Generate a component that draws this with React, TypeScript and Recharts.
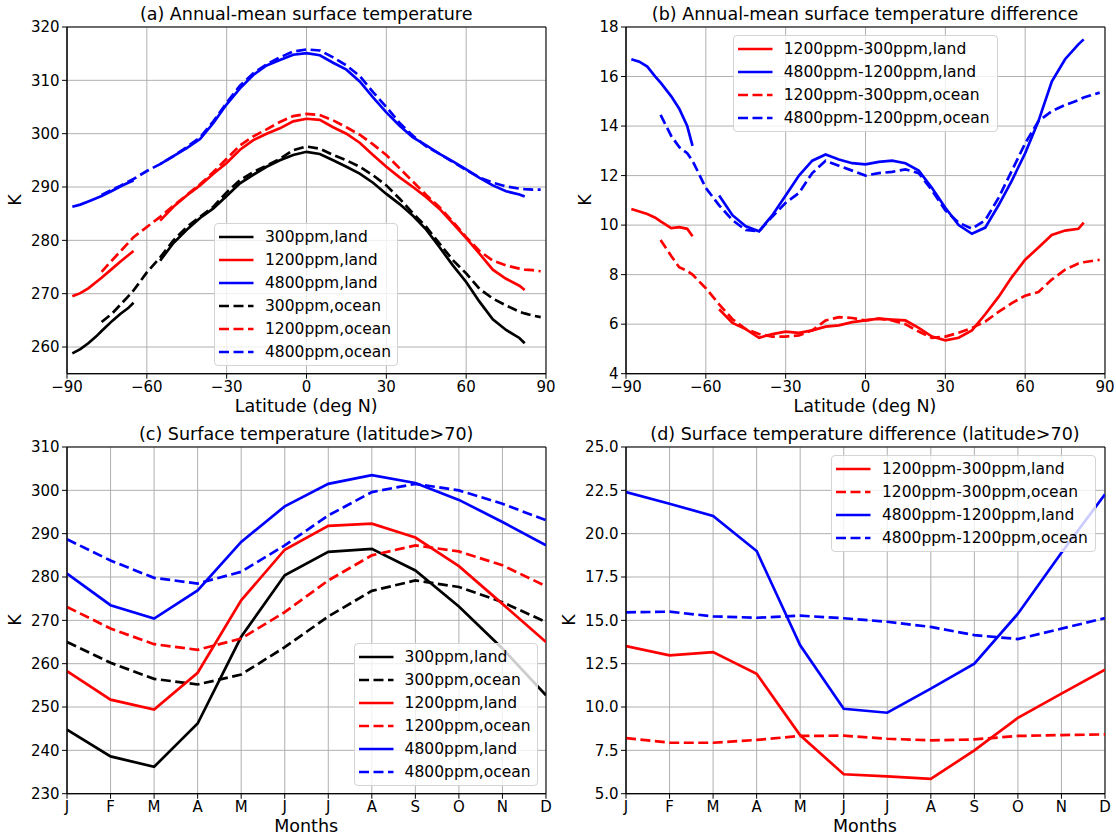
import React from "react"
import {
  LineChart,
  Line,
  XAxis,
  YAxis,
  CartesianGrid,
  ReferenceArea,
} from "recharts"

const FONT = '"DejaVu Sans", sans-serif'

// latitude grid (deg N) shared by panels (a) and (b); null = no land / no ocean there
const LAT = [-88, -85, -82, -79, -77, -73, -70, -67, -65, -60, -55, -50, -45, -40, -35, -30, -25, -20, -15, -10, -5, 0, 5, 10, 15, 20, 25, 30, 35, 40, 45, 50, 55, 60, 65, 70, 75, 80, 82, 85, 88]
const LAT_TICKS = [-90, -60, -30, 0, 30, 60, 90]

// (a) annual-mean surface temperature, K
const LAND_300 = [258.8, 259.6, 260.7, 262.0, 263.0, 264.9, 266.2, 267.3, 268.3, null, 276.2, 279.5, 282.0, 284.2, 286.0, 288.3, 290.7, 292.3, 293.8, 295.0, 296.0, 296.6, 296.2, 295.0, 293.8, 292.5, 290.8, 288.7, 286.8, 284.6, 282.0, 278.7, 275.3, 272.2, 268.5, 265.2, 263.2, 261.7, 260.7, null, null]
const LAND_1200 = [269.5, 270.1, 271.0, 272.2, 273.0, 274.7, 276.0, 277.2, 278.0, null, 283.7, 286.3, 288.4, 290.3, 292.5, 294.5, 297.0, 298.8, 300.0, 301.0, 302.3, 302.8, 302.6, 301.2, 300.0, 298.3, 296.0, 293.8, 291.8, 290.0, 288.1, 285.9, 283.2, 280.4, 277.5, 274.5, 272.8, 271.5, 270.7, null, null]
const LAND_4800 = [286.3, 286.7, 287.3, 287.9, 288.3, 289.3, 290.1, 290.8, 291.2, null, 294.3, 295.8, 297.3, 299.0, 302.0, 305.5, 308.5, 311.0, 312.8, 313.8, 314.8, 315.1, 314.7, 313.3, 312.0, 309.8, 306.8, 304.0, 301.5, 299.3, 297.8, 296.2, 294.8, 293.3, 291.7, 290.3, 289.2, 288.6, 288.2, null, null]
const OCEAN_300 = [null, null, null, null, 264.7, 266.3, 267.9, 269.5, 270.6, 274.0, 276.8, 280.0, 282.5, 284.4, 286.3, 289.0, 291.3, 292.8, 294.0, 295.3, 296.9, 297.6, 297.2, 296.0, 295.0, 293.8, 292.2, 290.3, 287.8, 285.1, 282.5, 279.4, 276.3, 273.8, 270.9, 269.1, 267.8, 266.6, 266.3, 265.9, 265.6]
const OCEAN_1200 = [null, null, null, null, 274.1, 276.3, 277.9, 279.5, 280.6, 282.5, 284.4, 286.5, 288.5, 290.5, 292.8, 295.3, 297.8, 299.5, 300.8, 302.2, 303.3, 303.7, 303.5, 302.5, 301.2, 299.8, 298.0, 296.0, 293.5, 291.0, 288.5, 286.2, 283.5, 280.6, 278.0, 276.2, 275.3, 274.7, 274.5, 274.4, 274.2]
const OCEAN_4800 = [null, null, null, null, 288.5, 289.5, 290.2, 291.0, 291.5, 293.0, 294.3, 295.8, 297.5, 299.3, 302.3, 305.8, 309.0, 311.3, 313.0, 314.3, 315.4, 315.8, 315.6, 314.3, 312.8, 310.8, 307.8, 305.0, 302.0, 299.6, 297.6, 296.2, 294.7, 293.2, 291.8, 290.8, 290.1, 289.7, 289.6, 289.5, 289.5]

// (b) annual-mean differences, K
const D_LAND_1200_300 = [10.65, 10.55, 10.45, 10.3, 10.15, 9.88, 9.92, 9.85, 9.55, null, 6.6, 6.05, 5.8, 5.45, 5.6, 5.7, 5.65, 5.75, 5.9, 5.95, 6.08, 6.15, 6.22, 6.18, 6.15, 5.85, 5.5, 5.35, 5.45, 5.75, 6.4, 7.1, 7.9, 8.6, 9.1, 9.6, 9.78, 9.85, 10.1, null, null]
const D_LAND_4800_1200 = [16.7, 16.6, 16.4, 16.0, 15.75, 15.2, 14.7, 14.0, 13.2, null, 11.2, 10.4, 9.95, 9.75, 10.4, 11.2, 12.0, 12.6, 12.85, 12.65, 12.5, 12.45, 12.55, 12.6, 12.5, 12.2, 11.5, 10.7, 10.0, 9.65, 9.9, 10.8, 11.8, 12.9, 14.2, 15.8, 16.7, 17.3, 17.5, null, null]
const D_OCEAN_1200_300 = [null, null, null, null, 9.4, 8.75, 8.3, 8.15, 8.0, 7.45, 6.8, 6.2, 5.8, 5.6, 5.5, 5.5, 5.55, 5.75, 6.15, 6.28, 6.25, 6.15, 6.22, 6.15, 6.0, 5.7, 5.45, 5.5, 5.65, 5.85, 6.1, 6.5, 6.85, 7.15, 7.3, 7.8, 8.2, 8.45, 8.5, 8.55, 8.6]
const D_OCEAN_4800_1200 = [null, null, null, null, 14.45, 13.6, 13.15, 12.9, 12.6, 11.5, 10.8, 10.2, 9.8, 9.75, 10.35, 10.9, 11.3, 12.1, 12.6, 12.4, 12.2, 12.0, 12.1, 12.15, 12.25, 12.1, 11.4, 10.6, 10.1, 9.85, 10.2, 11.1, 12.2, 13.3, 14.2, 14.6, 14.85, 15.05, 15.15, 15.25, 15.35]

// (c), (d) monthly means poleward of 70N
const MONTHS = ["J", "F", "M", "A", "M", "J", "J", "A", "S", "O", "N", "D"]
const POLAR_LAND_300 = [244.8, 238.6, 236.2, 246.2, 266.2, 280.4, 285.8, 286.5, 281.5, 273.2, 263.5, 252.7]
const POLAR_OCEAN_300 = [265.0, 260.2, 256.5, 255.2, 257.5, 263.8, 270.9, 276.8, 279.2, 277.7, 274.2, 269.6]
const POLAR_LAND_1200 = [258.3, 251.7, 249.4, 257.9, 274.6, 286.3, 291.8, 292.3, 289.1, 282.5, 273.8, 265.0]
const POLAR_OCEAN_1200 = [273.1, 268.1, 264.5, 263.2, 265.8, 271.9, 279.2, 285.0, 287.3, 285.9, 282.7, 277.9]
const POLAR_LAND_4800 = [280.8, 273.5, 270.4, 276.9, 288.1, 296.3, 301.5, 303.5, 301.7, 297.8, 292.7, 287.3]
const POLAR_OCEAN_4800 = [288.7, 283.8, 279.8, 278.5, 281.2, 287.3, 294.2, 299.6, 301.5, 300.0, 296.9, 293.1]

const POLAR_D_LAND_1200_300 = [13.52, 12.98, 13.17, 11.92, 8.37, 6.12, 6.0, 5.85, 7.5, 9.38, 10.77, 12.15]
const POLAR_D_OCEAN_1200_300 = [8.21, 7.94, 7.94, 8.1, 8.33, 8.35, 8.17, 8.08, 8.13, 8.33, 8.38, 8.42]
const POLAR_D_LAND_4800_1200 = [22.4, 21.73, 21.02, 19.0, 13.56, 9.9, 9.67, 11.06, 12.5, 15.38, 18.9, 22.27]
const POLAR_D_OCEAN_4800_1200 = [15.46, 15.5, 15.23, 15.15, 15.27, 15.12, 14.92, 14.62, 14.15, 13.92, 14.52, 15.13]

const MONTH_IDX = MONTHS.map((_, i) => i)

const latData = LAT.map((lat, i) => ({
  x: lat,
  land300: LAND_300[i],
  land1200: LAND_1200[i],
  land4800: LAND_4800[i],
  ocean300: OCEAN_300[i],
  ocean1200: OCEAN_1200[i],
  ocean4800: OCEAN_4800[i],
  dLand12: D_LAND_1200_300[i],
  dLand48: D_LAND_4800_1200[i],
  dOcean12: D_OCEAN_1200_300[i],
  dOcean48: D_OCEAN_4800_1200[i],
}))

const monthData = MONTH_IDX.map((m) => ({
  x: m,
  land300: POLAR_LAND_300[m],
  ocean300: POLAR_OCEAN_300[m],
  land1200: POLAR_LAND_1200[m],
  ocean1200: POLAR_OCEAN_1200[m],
  land4800: POLAR_LAND_4800[m],
  ocean4800: POLAR_OCEAN_4800[m],
  dLand12: POLAR_D_LAND_1200_300[m],
  dOcean12: POLAR_D_OCEAN_1200_300[m],
  dLand48: POLAR_D_LAND_4800_1200[m],
  dOcean48: POLAR_D_OCEAN_4800_1200[m],
}))

interface Series {
  key: string
  name: string
  color: string
  dashed?: boolean
}

const S_ABS_LAT: Series[] = [
  { key: "land300", name: "300ppm,land", color: "#000000" },
  { key: "land1200", name: "1200ppm,land", color: "#ff0000" },
  { key: "land4800", name: "4800ppm,land", color: "#0000ff" },
  { key: "ocean300", name: "300ppm,ocean", color: "#000000", dashed: true },
  { key: "ocean1200", name: "1200ppm,ocean", color: "#ff0000", dashed: true },
  { key: "ocean4800", name: "4800ppm,ocean", color: "#0000ff", dashed: true },
]
const S_DIFF_LAT: Series[] = [
  { key: "dLand12", name: "1200ppm-300ppm,land", color: "#ff0000" },
  { key: "dLand48", name: "4800ppm-1200ppm,land", color: "#0000ff" },
  { key: "dOcean12", name: "1200ppm-300ppm,ocean", color: "#ff0000", dashed: true },
  { key: "dOcean48", name: "4800ppm-1200ppm,ocean", color: "#0000ff", dashed: true },
]
const S_ABS_MON: Series[] = [
  { key: "land300", name: "300ppm,land", color: "#000000" },
  { key: "ocean300", name: "300ppm,ocean", color: "#000000", dashed: true },
  { key: "land1200", name: "1200ppm,land", color: "#ff0000" },
  { key: "ocean1200", name: "1200ppm,ocean", color: "#ff0000", dashed: true },
  { key: "land4800", name: "4800ppm,land", color: "#0000ff" },
  { key: "ocean4800", name: "4800ppm,ocean", color: "#0000ff", dashed: true },
]
const S_DIFF_MON: Series[] = [
  { key: "dLand12", name: "1200ppm-300ppm,land", color: "#ff0000" },
  { key: "dOcean12", name: "1200ppm-300ppm,ocean", color: "#ff0000", dashed: true },
  { key: "dLand48", name: "4800ppm-1200ppm,land", color: "#0000ff" },
  { key: "dOcean48", name: "4800ppm-1200ppm,ocean", color: "#0000ff", dashed: true },
]

const LW = 2.7
const DASH = "10 4.5"
const PW = 479
const PH = 346.7

const minusFmt = (v: number) => (v < 0 ? "\u2212" + Math.abs(v) : String(v))

function Panel({
  left,
  top,
  data,
  xTicks,
  xFmt,
  yTicks,
  yDomain,
  yFmt,
  series,
}: {
  left: number
  top: number
  data: any[]
  xTicks: number[]
  xFmt: (v: number) => string
  yTicks: number[]
  yDomain: [number, number]
  yFmt?: (v: number) => string
  series: Series[]
}) {
  const ML = 70
  const MT = 30
  const MB = 45
  const MR = 10
  const x0 = xTicks[0]
  const x1 = xTicks[xTicks.length - 1]
  const tick = { fill: "#000", fontSize: 15, fontFamily: FONT }
  return (
    <div style={{ position: "absolute", left: left - ML, top: top - MT }}>
      <LineChart
        width={PW + ML + MR}
        height={PH + MT + MB}
        data={data}
        margin={{ top: MT, right: MR, bottom: 0, left: 0 }}
      >
        <CartesianGrid stroke="#b0b0b0" strokeWidth={1} />
        <XAxis
          dataKey="x"
          type="number"
          domain={[x0, x1]}
          ticks={xTicks}
          interval={0}
          tickFormatter={xFmt}
          height={MB}
          tickSize={5}
          tickMargin={3}
          tick={tick}
          axisLine={{ stroke: "#000" }}
          tickLine={{ stroke: "#000" }}
          allowDataOverflow
        />
        <YAxis
          type="number"
          domain={yDomain}
          ticks={yTicks}
          interval={0}
          tickFormatter={yFmt}
          width={ML}
          tickSize={5}
          tickMargin={2.5}
          tick={tick}
          axisLine={{ stroke: "#000" }}
          tickLine={{ stroke: "#000" }}
          allowDataOverflow
        />
        {series.map((s) => (
          <Line
            key={s.key}
            dataKey={s.key}
            type="linear"
            stroke={s.color}
            strokeWidth={LW}
            strokeDasharray={s.dashed ? DASH : undefined}
            dot={false}
            activeDot={false}
            isAnimationActive={false}
          />
        ))}
        <ReferenceArea
          x1={x0}
          x2={x1}
          y1={yDomain[0]}
          y2={yDomain[1]}
          fill="none"
          stroke="#000"
          strokeWidth={1}
        />
      </LineChart>
    </div>
  )
}

function LegendBox({
  left,
  top,
  width,
  height,
  items,
}: {
  left: number
  top: number
  width: number
  height: number
  items: Series[]
}) {
  return (
    <div
      style={{
        position: "absolute",
        left,
        top,
        width,
        height,
        background: "rgba(255,255,255,0.8)",
        border: "1px solid #d4d4d4",
        borderRadius: 4,
        boxSizing: "border-box",
      }}
    >
      {items.map((s, i) => (
        <div
          key={s.key}
          style={{
            position: "absolute",
            left: 0,
            top: 13 + i * 23.1 - 10,
            height: 20,
            display: "flex",
            alignItems: "center",
            whiteSpace: "nowrap",
          }}
        >
          <svg width={40} height={20} style={{ marginLeft: 4, flex: "none" }}>
            <line
              x1={0}
              x2={34.5}
              y1={10}
              y2={10}
              stroke={s.color}
              strokeWidth={LW}
              strokeDasharray={s.dashed ? DASH : undefined}
            />
          </svg>
          <span style={{ marginLeft: 6, fontSize: 15.5, color: "#000", fontFamily: FONT }}>{s.name}</span>
        </div>
      ))}
    </div>
  )
}

function Text({ x, y, size, children, rotate }: { x: number; y: number; size: number; children: React.ReactNode; rotate?: boolean }) {
  return (
    <div
      style={{
        position: "absolute",
        left: x,
        top: y,
        transform: `translate(-50%, -50%)${rotate ? " rotate(-90deg)" : ""}`,
        fontSize: size,
        fontFamily: FONT,
        color: "#000",
        whiteSpace: "nowrap",
        lineHeight: 1,
      }}
    >
      {children}
    </div>
  )
}

export default function App() {
  const LX = 66.7
  const RX = 625.5
  const TY = 26.7
  const BY = 446.7
  const lc = LX + PW / 2
  const rc = RX + PW / 2
  return (
    <div
      style={{
        position: "absolute",
        left: 0,
        top: 0,
        width: 1116,
        height: 836,
        background: "#fff",
        overflow: "hidden",
        fontFamily: FONT,
      }}
    >
      <Panel
        left={LX}
        top={TY}
        data={latData}
        xTicks={LAT_TICKS}
        xFmt={minusFmt}
        yTicks={[260, 270, 280, 290, 300, 310, 320]}
        yDomain={[255, 320]}
        series={S_ABS_LAT}
      />
      <Panel
        left={RX}
        top={TY}
        data={latData}
        xTicks={LAT_TICKS}
        xFmt={minusFmt}
        yTicks={[4, 6, 8, 10, 12, 14, 16, 18]}
        yDomain={[4, 18]}
        series={S_DIFF_LAT}
      />
      <Panel
        left={LX}
        top={BY}
        data={monthData}
        xTicks={MONTH_IDX}
        xFmt={(v) => MONTHS[v]}
        yTicks={[230, 240, 250, 260, 270, 280, 290, 300, 310]}
        yDomain={[230, 310]}
        series={S_ABS_MON}
      />
      <Panel
        left={RX}
        top={BY}
        data={monthData}
        xTicks={MONTH_IDX}
        xFmt={(v) => MONTHS[v]}
        yTicks={[5, 7.5, 10, 12.5, 15, 17.5, 20, 22.5, 25]}
        yDomain={[5, 25]}
        yFmt={(v) => v.toFixed(1)}
        series={S_DIFF_MON}
      />

      <LegendBox left={214} top={222.7} width={184} height={143} items={S_ABS_LAT} />
      <LegendBox left={732.7} top={35} width={265.3} height={96.7} items={S_DIFF_LAT} />
      <LegendBox left={353.6} top={642.7} width={184} height={143} items={S_ABS_MON} />
      <LegendBox left={831} top={455} width={265} height={96.7} items={S_DIFF_MON} />

      <Text x={lc} y={15} size={17.5}>(a) Annual-mean surface temperature</Text>
      <Text x={rc} y={15} size={17.5}>(b) Annual-mean surface temperature difference</Text>
      <Text x={lc} y={435} size={17.5}>(c) Surface temperature (latitude&gt;70)</Text>
      <Text x={rc} y={435} size={17.5}>(d) Surface temperature difference (latitude&gt;70)</Text>

      <Text x={lc} y={407} size={17.5}>Latitude (deg N)</Text>
      <Text x={rc} y={407} size={17.5}>Latitude (deg N)</Text>
      <Text x={lc} y={827} size={17.5}>Months</Text>
      <Text x={rc} y={827} size={17.5}>Months</Text>

      <Text x={16} y={TY + PH / 2} size={17.5} rotate>K</Text>
      <Text x={586} y={TY + PH / 2} size={17.5} rotate>K</Text>
      <Text x={16} y={BY + PH / 2} size={17.5} rotate>K</Text>
      <Text x={570} y={BY + PH / 2} size={17.5} rotate>K</Text>
    </div>
  )
}
